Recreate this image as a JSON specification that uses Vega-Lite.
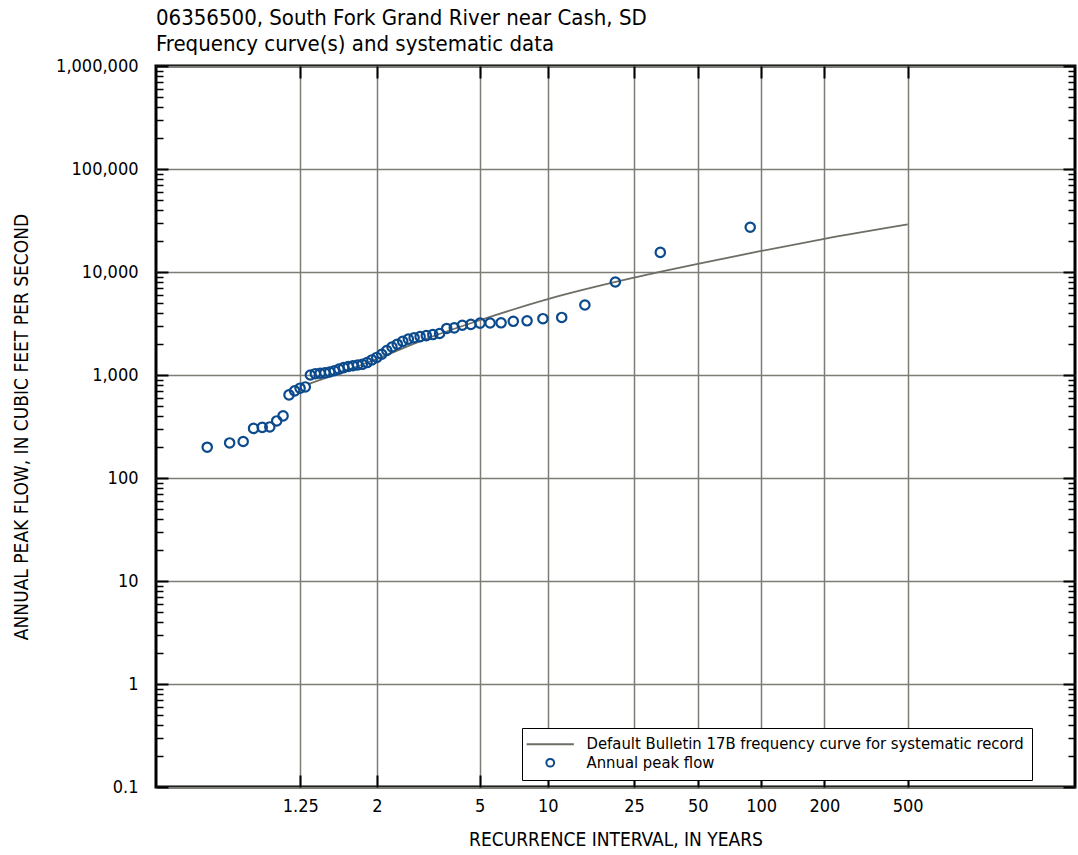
{
  "$schema": "https://vega.github.io/schema/vega-lite/v6.json",
  "width": 919,
  "height": 721,
  "autosize": {"type": "none"},
  "padding": {"left": 156, "top": 66, "right": 3, "bottom": 68},
  "background": "white",
  "config": {
    "font": "Liberation Sans Narrow, DejaVu Sans Condensed, sans-serif",
    "view": {"stroke": "black", "strokeWidth": 3},
    "axis": {
      "labelFont": "Liberation Sans Narrow, DejaVu Sans Condensed, sans-serif",
      "titleFont": "Liberation Sans Narrow, DejaVu Sans Condensed, sans-serif",
      "labelFontSize": 18,
      "titleFontSize": 19,
      "titleFontWeight": "normal",
      "labelColor": "black",
      "titleColor": "black",
      "tickColor": "black",
      "gridColor": "#7d7d76",
      "gridWidth": 1.5,
      "gridOpacity": 1
    },
    "legend": {
      "labelFont": "Liberation Sans Narrow, DejaVu Sans Condensed, sans-serif"
    }
  },
  "title": {
    "text": ["06356500, South Fork Grand River near Cash, SD", "Frequency curve(s) and systematic data"],
    "anchor": "start",
    "frame": "group",
    "fontSize": 22,
    "fontWeight": "normal",
    "lineHeight": 26,
    "color": "black",
    "offset": 1,
    "font": "Liberation Sans Narrow, DejaVu Sans Condensed, sans-serif"
  },
  "datasets": {
    "peaks": [
      {"T": 88.667, "Q": 27200, "series": "Annual peak flow"},
      {"T": 33.25, "Q": 15500, "series": "Annual peak flow"},
      {"T": 20.4615, "Q": 8000, "series": "Annual peak flow"},
      {"T": 14.7778, "Q": 4780, "series": "Annual peak flow"},
      {"T": 11.5652, "Q": 3620, "series": "Annual peak flow"},
      {"T": 9.5, "Q": 3520, "series": "Annual peak flow"},
      {"T": 8.0606, "Q": 3360, "series": "Annual peak flow"},
      {"T": 7.0, "Q": 3320, "series": "Annual peak flow"},
      {"T": 6.186, "Q": 3210, "series": "Annual peak flow"},
      {"T": 5.5417, "Q": 3200, "series": "Annual peak flow"},
      {"T": 5.0189, "Q": 3190, "series": "Annual peak flow"},
      {"T": 4.5862, "Q": 3100, "series": "Annual peak flow"},
      {"T": 4.2222, "Q": 3040, "series": "Annual peak flow"},
      {"T": 3.9118, "Q": 2870, "series": "Annual peak flow"},
      {"T": 3.6438, "Q": 2830, "series": "Annual peak flow"},
      {"T": 3.4103, "Q": 2530, "series": "Annual peak flow"},
      {"T": 3.2048, "Q": 2470, "series": "Annual peak flow"},
      {"T": 3.0227, "Q": 2410, "series": "Annual peak flow"},
      {"T": 2.8602, "Q": 2360, "series": "Annual peak flow"},
      {"T": 2.7143, "Q": 2300, "series": "Annual peak flow"},
      {"T": 2.5825, "Q": 2230, "series": "Annual peak flow"},
      {"T": 2.463, "Q": 2120, "series": "Annual peak flow"},
      {"T": 2.354, "Q": 1990, "series": "Annual peak flow"},
      {"T": 2.2542, "Q": 1870, "series": "Annual peak flow"},
      {"T": 2.1626, "Q": 1730, "series": "Annual peak flow"},
      {"T": 2.0781, "Q": 1590, "series": "Annual peak flow"},
      {"T": 2.0, "Q": 1480, "series": "Annual peak flow"},
      {"T": 1.9275, "Q": 1400, "series": "Annual peak flow"},
      {"T": 1.8601, "Q": 1320, "series": "Annual peak flow"},
      {"T": 1.7973, "Q": 1270, "series": "Annual peak flow"},
      {"T": 1.7386, "Q": 1250, "series": "Annual peak flow"},
      {"T": 1.6835, "Q": 1230, "series": "Annual peak flow"},
      {"T": 1.6319, "Q": 1210, "series": "Annual peak flow"},
      {"T": 1.5833, "Q": 1180, "series": "Annual peak flow"},
      {"T": 1.5376, "Q": 1140, "series": "Annual peak flow"},
      {"T": 1.4944, "Q": 1100, "series": "Annual peak flow"},
      {"T": 1.4536, "Q": 1070, "series": "Annual peak flow"},
      {"T": 1.4149, "Q": 1050, "series": "Annual peak flow"},
      {"T": 1.3782, "Q": 1040, "series": "Annual peak flow"},
      {"T": 1.3434, "Q": 1030, "series": "Annual peak flow"},
      {"T": 1.3103, "Q": 1000, "series": "Annual peak flow"},
      {"T": 1.2788, "Q": 766, "series": "Annual peak flow"},
      {"T": 1.2488, "Q": 745, "series": "Annual peak flow"},
      {"T": 1.2202, "Q": 701, "series": "Annual peak flow"},
      {"T": 1.1928, "Q": 641, "series": "Annual peak flow"},
      {"T": 1.1667, "Q": 401, "series": "Annual peak flow"},
      {"T": 1.1416, "Q": 358, "series": "Annual peak flow"},
      {"T": 1.1176, "Q": 313, "series": "Annual peak flow"},
      {"T": 1.0947, "Q": 310, "series": "Annual peak flow"},
      {"T": 1.0726, "Q": 303, "series": "Annual peak flow"},
      {"T": 1.0514, "Q": 226, "series": "Annual peak flow"},
      {"T": 1.031, "Q": 219, "series": "Annual peak flow"},
      {"T": 1.0114, "Q": 199, "series": "Annual peak flow"}
    ],
    "curve": [
      {"T": 1.3, "Q": 820},
      {"T": 1.5, "Q": 1010},
      {"T": 2, "Q": 1430},
      {"T": 3, "Q": 2230},
      {"T": 5, "Q": 3400},
      {"T": 10, "Q": 5450},
      {"T": 25, "Q": 8800},
      {"T": 50, "Q": 12000},
      {"T": 100, "Q": 16000},
      {"T": 200, "Q": 21000},
      {"T": 500, "Q": 29000}
    ]
  },
  "layer": [
    {
      "data": {"name": "curve"},
      "transform": [{"calculate": "-log(-log(1 - 1/datum.T))", "as": "g"}],
      "mark": {"type": "line", "color": "#6e6e66", "strokeWidth": 1.8, "interpolate": "monotone"},
      "encoding": {
        "x": {
          "field": "g", "type": "quantitative",
          "scale": {"domain": [-2.065, 8.056], "nice": false, "zero": false},
          "axis": {
            "orient": "bottom",
            "title": "RECURRENCE INTERVAL, IN YEARS",
            "titlePadding": 15,
            "values": [-0.4758849, 0.3665129, 1.49994, 2.2503673, 3.1985343, 3.9019387, 4.6001492, 5.2958323, 6.2136073],
            "labelExpr": "format(1/(1-exp(-exp(-datum.value))), '.3~r')",
            "tickSize": -12, "tickWidth": 2,
            "labelPadding": 22,
            "grid": true,
            "domain": false
          }
        },
        "y": {
          "field": "Q", "type": "quantitative",
          "scale": {"type": "log", "domain": [0.1, 1000000], "nice": false},
          "axis": {
            "orient": "left",
            "title": "ANNUAL PEAK FLOW, IN CUBIC FEET PER SECOND",
            "titlePadding": 24,
            "values": [0.1, 1, 10, 100, 1000, 10000, 100000, 1000000],
            "format": ",",
            "tickSize": -12, "tickWidth": 2,
            "labelPadding": 30,
            "grid": true,
            "domain": false
          }
        }
      }
    },
    {
      "data": {"name": "peaks"},
      "transform": [{"calculate": "-log(-log(1 - 1/datum.T))", "as": "g"}],
      "mark": {"type": "point", "filled": false, "strokeWidth": 2.2, "size": 88, "opacity": 1},
      "encoding": {
        "x": {
          "field": "g", "type": "quantitative",
          "scale": {"domain": [-2.065, 8.056], "nice": false, "zero": false},
          "axis": {
            "orient": "top", "title": null, "labels": false, "grid": false, "domain": false,
            "values": [-0.4758849, 0.3665129, 1.49994, 2.2503673, 3.1985343, 3.9019387, 4.6001492, 5.2958323, 6.2136073],
            "tickSize": -12, "tickWidth": 2
          }
        },
        "y": {
          "field": "Q", "type": "quantitative",
          "scale": {"type": "log", "domain": [0.1, 1000000], "nice": false},
          "axis": {
            "orient": "left", "title": null, "labels": false, "grid": false, "domain": false,
            "values": [0.2,0.3,0.4,0.5,0.6,0.7,0.8,0.9,2,3,4,5,6,7,8,9,20,30,40,50,60,70,80,90,200,300,400,500,600,700,800,900,2000,3000,4000,5000,6000,7000,8000,9000,20000,30000,40000,50000,60000,70000,80000,90000,200000,300000,400000,500000,600000,700000,800000,900000],
            "tickSize": -7, "tickWidth": 1.5
          }
        },
        "color": {
          "field": "series", "type": "nominal",
          "scale": {"domain": ["Default Bulletin 17B frequency curve for systematic record", "Annual peak flow"], "range": ["#6e6e66", "#0b4a8c"]},
          "legend": {
            "title": null,
            "orient": "none",
            "legendX": 366,
            "legendY": 662,
            "padding": 8,
            "strokeColor": "black",
            "fillColor": "white",
            "labelFontSize": 16.5,
            "labelColor": "black",
            "labelLimit": 600,
            "symbolSize": 60,
            "symbolStrokeWidth": 2,
            "symbolOffset": 12,
            "labelOffset": 28,
            "rowPadding": 1.5,
            "encode": {"legend": {"update": {"strokeWidth": {"value": 2}}}}
          }
        },
        "shape": {
          "field": "series", "type": "nominal",
          "scale": {"domain": ["Default Bulletin 17B frequency curve for systematic record", "Annual peak flow"], "range": ["M-6.1,0L6.1,0", "circle"]}
        }
      }
    },
    {
      "data": {"name": "peaks"},
      "transform": [{"calculate": "-log(-log(1 - 1/datum.T))", "as": "g"}],
      "mark": {"type": "point", "opacity": 0},
      "encoding": {
        "x": {"field": "g", "type": "quantitative", "scale": {"domain": [-2.065, 8.056], "nice": false, "zero": false}, "axis": null},
        "y": {
          "field": "Q", "type": "quantitative",
          "scale": {"type": "log", "domain": [0.1, 1000000], "nice": false},
          "axis": {
            "orient": "right", "title": null, "labels": false, "grid": false, "domain": false,
            "values": [0.1, 1, 10, 100, 1000, 10000, 100000, 1000000],
            "tickSize": -12, "tickWidth": 2
          }
        }
      }
    },
    {
      "data": {"name": "peaks"},
      "transform": [{"calculate": "-log(-log(1 - 1/datum.T))", "as": "g"}],
      "mark": {"type": "point", "opacity": 0},
      "encoding": {
        "x": {"field": "g", "type": "quantitative", "scale": {"domain": [-2.065, 8.056], "nice": false, "zero": false}, "axis": null},
        "y": {
          "field": "Q", "type": "quantitative",
          "scale": {"type": "log", "domain": [0.1, 1000000], "nice": false},
          "axis": {
            "orient": "right", "title": null, "labels": false, "grid": false, "domain": false,
            "values": [0.2,0.3,0.4,0.5,0.6,0.7,0.8,0.9,2,3,4,5,6,7,8,9,20,30,40,50,60,70,80,90,200,300,400,500,600,700,800,900,2000,3000,4000,5000,6000,7000,8000,9000,20000,30000,40000,50000,60000,70000,80000,90000,200000,300000,400000,500000,600000,700000,800000,900000],
            "tickSize": -7, "tickWidth": 1.5
          }
        }
      }
    }
  ],
  "resolve": {"axis": {"x": "independent", "y": "independent"}}
}
